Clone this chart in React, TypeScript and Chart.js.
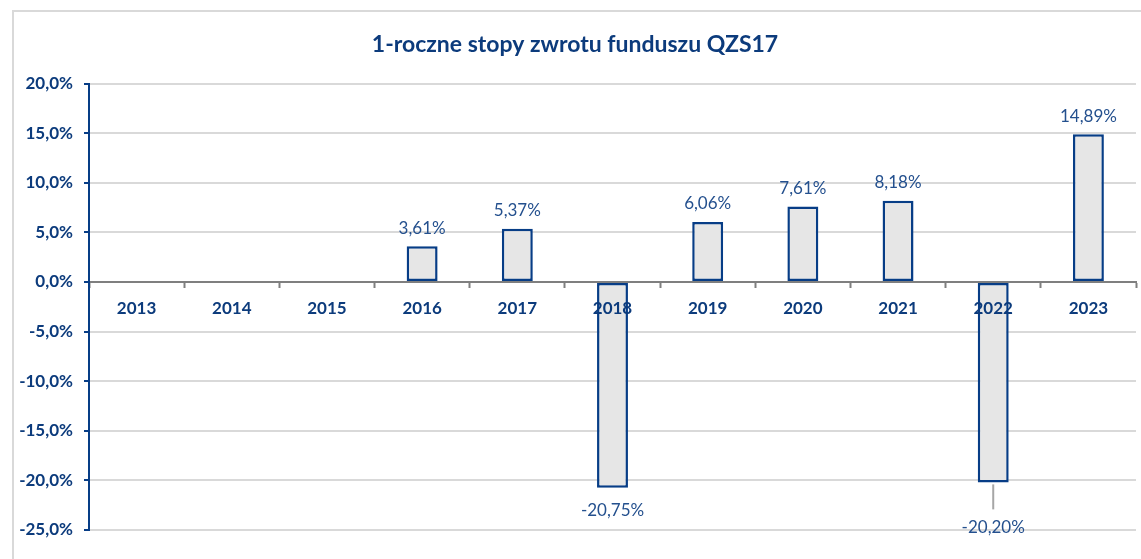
import React, { useEffect, useRef } from "react";
import { Chart, registerables } from "chart.js";

Chart.register(...registerables);

const categories = ["2013", "2014", "2015", "2016", "2017", "2018", "2019", "2020", "2021", "2022", "2023"];
const returns: (number | null)[] = [null, null, null, 3.61, 5.37, -20.75, 6.06, 7.61, 8.18, -20.2, 14.89];
const titleText = "1-roczne stopy zwrotu funduszu QZS17";
const yMin = -25;
const yMax = 20;
const yStep = 5;
// categories whose value label was pulled further away (with a leader line)
const leaderLabelCategories = ["2022"];

const AXIS_BLUE = "#0c3b7c";
const LABEL_BLUE = "#24508e";
const BAR_BORDER = "#073d86";
const FONT = "Lato, 'Open Sans', sans-serif";

const fmt = (v: number, d: number) => v.toFixed(d).replace(".", ",") + "%";

const dataLabelPlugin = {
  id: "dataLabels",
  afterDatasetsDraw(chart: any) {
    const ctx = chart.ctx;
    const meta = chart.getDatasetMeta(0);
    ctx.save();
    ctx.font = `17px ${FONT}`;
    ctx.fillStyle = LABEL_BLUE;
    ctx.textAlign = "center";
    ctx.textBaseline = "middle";
    meta.data.forEach((el: any, i: number) => {
      const v = returns[i];
      if (v === null || v === undefined) return;
      const text = fmt(v, 2);
      if (v >= 0) {
        ctx.fillText(text, el.x, el.y - 18);
      } else {
        const leader = leaderLabelCategories.includes(categories[i]);
        const ly = el.y + (leader ? 45 : 23);
        if (leader) {
          ctx.save();
          ctx.strokeStyle = "#a6a6a6";
          ctx.lineWidth = 2;
          ctx.beginPath();
          ctx.moveTo(el.x, el.y + 2);
          ctx.lineTo(el.x, ly - 18);
          ctx.stroke();
          ctx.restore();
        }
        ctx.fillText(text, el.x, ly);
      }
    });
    ctx.restore();
  },
};

export default function App() {
  const ref = useRef<HTMLCanvasElement | null>(null);
  useEffect(() => {
    if (!ref.current) return;
    const chart = new Chart(ref.current, {
      type: "bar",
      data: {
        labels: categories,
        datasets: [
          {
            data: returns as any,
            backgroundColor: "#e6e6e6",
            borderColor: BAR_BORDER,
            borderWidth: 2.5,
            borderSkipped: false,
            categoryPercentage: 1,
            barPercentage: 0.325,
          },
        ],
      },
      options: {
        animation: false,
        responsive: false,
        devicePixelRatio: 1,
        layout: { padding: { left: 0, right: 62, top: 0, bottom: 42 } },
        plugins: {
          legend: { display: false },
          tooltip: { enabled: false },
          title: {
            display: true,
            text: titleText,
            color: AXIS_BLUE,
            font: { family: FONT, size: 23, weight: "bold" },
            padding: { top: 19, bottom: 25 },
          },
        },
        scales: {
          x: {
            type: "category",
            axis: "x",
            position: { y: 0 } as any,
            afterFit: (s: any) => {
              s.height = 0;
            },
            grid: {
              display: true,
              drawOnChartArea: false,
              drawTicks: true,
              tickLength: 5,
              tickColor: "#7f7f7f",
              tickWidth: 2,
              offset: true,
            },
            border: { display: true, color: "#7f7f7f", width: 2 },
            ticks: {
              z: 1,
              color: AXIS_BLUE,
              font: { family: FONT, size: 17, weight: "bold" },
              padding: 11,
              autoSkip: false,
              maxRotation: 0,
            },
          },
          y: {
            min: yMin,
            max: yMax,
            afterFit: (s: any) => {
              s.width = 75;
            },
            grid: {
              color: "#d9d9d9",
              lineWidth: 2,
              tickLength: 5,
              tickColor: BAR_BORDER,
              tickWidth: 2,
            },
            border: { display: true, color: BAR_BORDER, width: 2 },
            ticks: {
              stepSize: yStep,
              color: AXIS_BLUE,
              font: { family: FONT, size: 17, weight: "bold" },
              padding: 11,
              callback: (v: any) => fmt(Number(v), 1),
            },
          },
        },
      },
      plugins: [dataLabelPlugin],
    });
    return () => chart.destroy();
  }, []);
  return (
    <div
      style={{
        position: "fixed",
        left: 12,
        top: 10,
        width: 1184,
        height: 560,
        border: "2px solid #d9d9d9",
        background: "#fff",
      }}
    >
      <canvas ref={ref} width={1184} height={560} style={{ display: "block" }} />
    </div>
  );
}
